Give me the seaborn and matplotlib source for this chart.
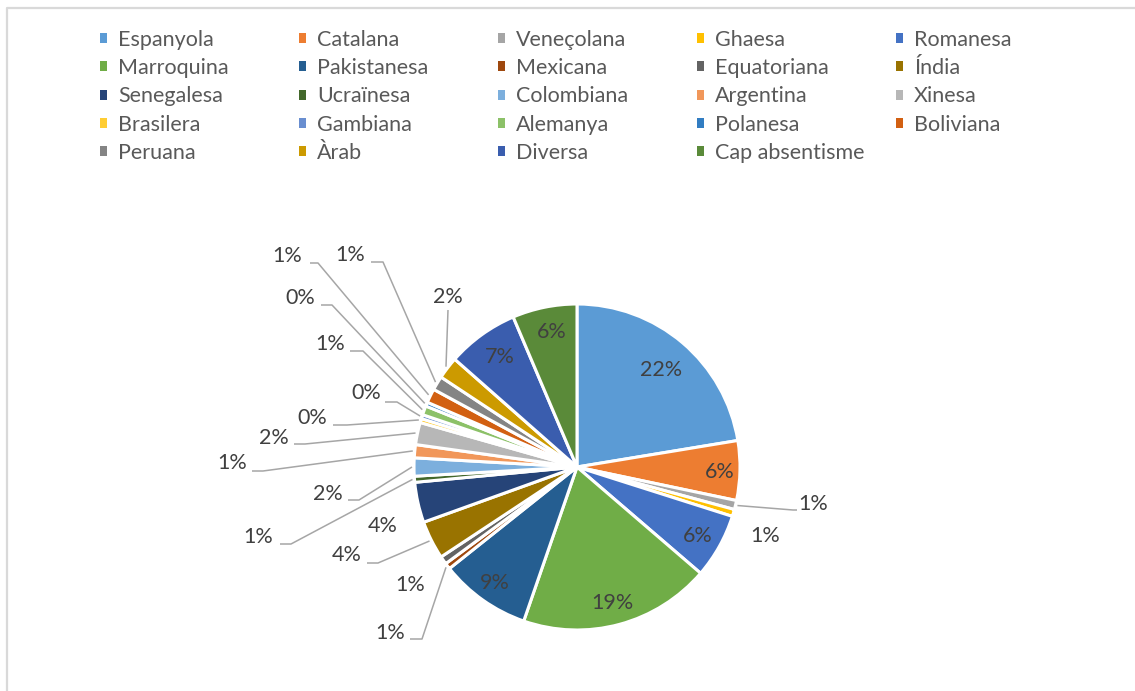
import numpy as np
import matplotlib
matplotlib.use("Agg")
import matplotlib.pyplot as plt
from matplotlib.patches import Patch
from matplotlib.lines import Line2D
import seaborn as sns

# ---------------- data ----------------
categories = ["Espanyola", "Catalana", "Veneçolana", "Ghaesa", "Romanesa",
              "Marroquina", "Pakistanesa", "Mexicana", "Equatoriana", "Índia",
              "Senegalesa", "Ucraïnesa", "Colombiana", "Argentina", "Xinesa",
              "Brasilera", "Gambiana", "Alemanya", "Polanesa", "Boliviana",
              "Peruana", "Àrab", "Diversa", "Cap absentisme"]
values = [22.4, 5.9, 0.9, 0.7, 6.4,
          19.0, 9.0, 0.6, 0.8, 3.8,
          4.0, 0.6, 1.8, 1.3, 2.2,
          0.4, 0.4, 0.9, 0.4, 1.4,
          1.4, 2.2, 7.1, 6.4]
colors = ["#5B9BD5", "#ED7D31", "#A5A5A5", "#FFC000", "#4472C4",
          "#70AD47", "#255E91", "#9E480E", "#636363", "#997300",
          "#264478", "#43682B", "#7CAFDD", "#F1975A", "#B7B7B7",
          "#FFCD33", "#698ED0", "#8CC168", "#327DC2", "#D26012",
          "#848484", "#CC9A00", "#3A5DAE", "#5A8A39"]

# ---------------- layout (pixel coordinates of the reference) ----------------
W, H = 1135, 691
CX, CY, R = 577, 467, 163
# label positions: (text x, text y, leader) ; leader = None or (elbow x, elbow y, end x)
label_layout = [
    (661, 370, None), (720, 472, None), (813, 504, (793, 510, 797)), (765, 536, None),
    (698, 536, None), (612, 603, None), (495, 583, None), (390, 633, (422, 639, 410)),
    (410, 585, None), (347, 555, (378, 563, 367)), (383, 526, None),
    (258, 537, (291, 544, 280)), (328, 494, (359, 500, 348)), (232, 463, (263, 471, 252)),
    (274, 438, (305, 444, 294)), (312, 418, (347, 425, 333)), (366, 393, (397, 402, 385)),
    (330, 344, (363, 351, 350)), (300, 298, (332, 305, 321)), (287, 256, (318, 263, 310)),
    (350, 255, (383, 262, 371)), (448, 297, (448, 310, 448)), (500, 357, None), (552, 332, None),
]
legend_cols_x = [100, 299, 498, 697, 896]
legend_top_y = 30

sns.set_theme(style="white")
plt.rcParams["font.family"] = ["Lato", "DejaVu Sans"]

fig = plt.figure(figsize=(W / 100, H / 100), dpi=100)
ax = fig.add_axes([0, 0, 1, 1])


def fy(y):
    return H - y


wedges, _ = ax.pie(values, colors=colors, startangle=90, counterclock=False,
                   center=(CX, fy(CY)), radius=R,
                   wedgeprops=dict(edgecolor="white", linewidth=2.2))
ax.set_xlim(0, W)
ax.set_ylim(0, H)
ax.set_aspect("equal")
ax.axis("off")

total = float(sum(values))
for w, v, (tx, ty, lead) in zip(wedges, values, label_layout):
    pct = int(np.floor(v / total * 100 + 0.5))
    ax.text(tx, fy(ty), f"{pct}%", ha="center", va="center",
            fontsize=15.5, color="#404040")
    if lead is not None:
        ang = np.deg2rad((w.theta1 + w.theta2) / 2)
        ax_ = CX + (R + 2) * np.cos(ang)
        ay_ = fy(CY) + (R + 2) * np.sin(ang)
        ex, ey, hx = lead
        ax.plot([ax_, ex, hx], [ay_, fy(ey), fy(ey)], color="#A6A6A6",
                lw=1.1, solid_capstyle="butt")

# legend: 5 columns filled row-wise
handles = [Patch(facecolor=c, edgecolor="none") for c in colors]
for j, x in enumerate(legend_cols_x):
    fig.legend(handles[j::5], categories[j::5], loc="upper left",
               bbox_to_anchor=(x / W, 1 - legend_top_y / H), frameon=False,
               fontsize=15.5, labelcolor="#595959", handlelength=0.34,
               handleheight=0.34, handletextpad=0.5, labelspacing=0.38,
               borderpad=0, borderaxespad=0)

# chart area border (top and left visible)
fig.lines.append(Line2D([7 / W, 7 / W, 1], [0, 1 - 7.5 / H, 1 - 7.5 / H],
                        transform=fig.transFigure, color="#D9D9D9", lw=1.6))

fig.savefig("out.png", dpi=100)
